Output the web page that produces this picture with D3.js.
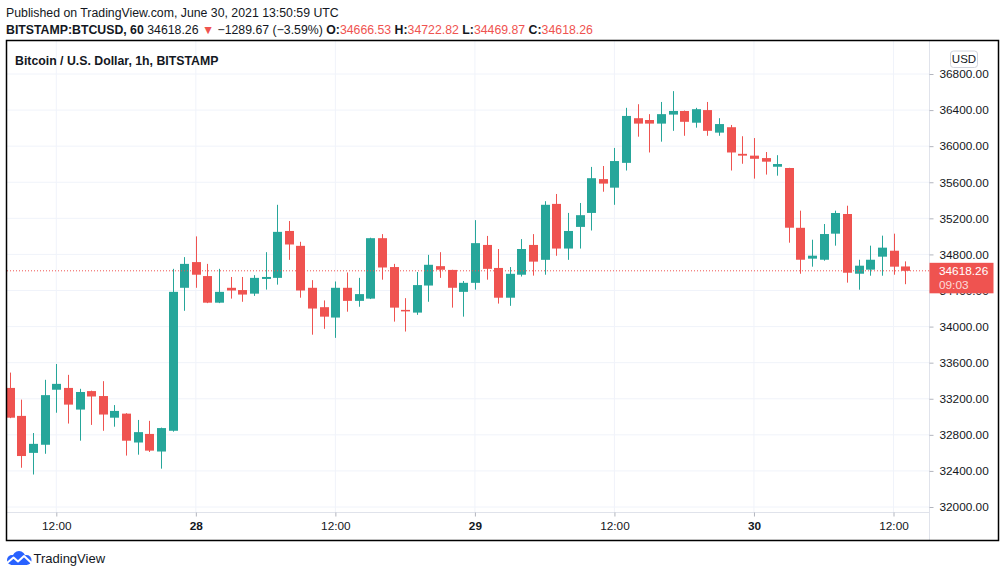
<!DOCTYPE html>
<html><head><meta charset="utf-8">
<script src="https://cdn.jsdelivr.net/npm/d3@7"></script>
<style>
body{margin:0;background:#fff;}
svg{display:block;font-family:"Liberation Sans",Arial,sans-serif;}
</style>
</head><body>
<svg id="c" width="1006" height="577"></svg>
<script>
// ---- data ----
const times = d3.utcHour.range(new Date(Date.UTC(2021,5,27,8)), new Date(Date.UTC(2021,5,30,14)));
const open = [33320,33010,32600,32690,33300,33320,33080,33285,33230,32990,33035,32715,32810,32615,32845,
 34430,34715,34560,34265,34430,34405,34365,34528,34540,35060,34895,34430,34215,34100,34430,
 34285,34310,34980,34660,34185,34155,34455,34670,34628,34385,34485,34905,34650,34320,34575,
 34905,34740,35360,34865,35105,35260,35635,35540,35815,36310,36290,36250,36350,36390,36260,
 36400,36150,36210,35915,35895,35868,35772,35758,35095,34753,34741,35030,35248,34586,34631,
 34775,34841,34666.53];
const high = [33490,33190,32820,33410,33585,33465,33310,33290,33395,33130,33040,32965,32955,32880,34640,
 34770,35000,34695,34640,34550,34550,34570,34825,35350,35170,34940,34515,34290,34500,34600,
 34540,34985,35025,34695,34315,34605,34795,34825,34630,34505,35180,35005,34860,34660,34970,
 35025,35390,35470,35260,35370,35770,35780,35980,36425,36465,36355,36490,36610,36395,36425,
 36490,36310,36235,36110,36090,35935,35900,35760,35285,34963,35137,35285,35340,34741,34897,
 35008,35030,34722.82];
const low = [32985,32435,32360,32590,33045,32925,32735,32910,32845,32890,32570,32580,32610,32425,32835,
 34175,34430,34260,34260,34310,34275,34340,34410,34465,34740,34320,33910,33975,33875,34165,
 34220,34305,34520,34055,33945,34130,34275,34540,34210,34110,34410,34520,34255,34230,34555,
 34565,34575,34785,34740,34865,35065,35495,35350,35730,36105,35930,36050,36170,36115,36205,
 36115,36115,35730,35805,35640,35685,35673,34930,34586,34664,34730,34897,34487,34409,34564,
 34564,34575,34469.87];
const close = [32990,32565,32700,33240,33365,33135,33275,33225,33025,33065,32735,32830,32625,32875,34385,
 34695,34575,34265,34385,34400,34355,34540,34550,35050,34910,34400,34200,34110,34430,34285,
 34360,34980,34655,34210,34175,34460,34685,34630,34430,34485,34925,34640,34320,34585,34860,
 34720,35350,34865,35060,35235,35645,35585,35835,36335,36250,36250,36355,36390,36270,36410,
 36170,36245,35930,35895,35860,35828,35802,35096,34741,34786,35026,35259,34597,34675,34741,
 34875,34664,34618.26];
const priceTicks = [32000,32400,32800,33200,33600,34000,34400,34800,35200,35600,36000,36400,36800];
const timeTicks = d3.utcHour.every(12).range(new Date(Date.UTC(2021,5,27,12)), new Date(Date.UTC(2021,5,30,13)));
const lastPrice = 34618.26, countdown = "09:03";

// ---- colors ----
const UP = "#26a69a", DOWN = "#ef5350", TXT = "#131722", GRID = "#f0f3fa", AXIS = "#e0e3eb";

const svg = d3.select("#c");
const L = 7, R = 929, T = 41, B = 512;

const x = d3.scaleTime()
  .domain([new Date(Date.UTC(2021,5,27,12)), new Date(Date.UTC(2021,5,30,12))])
  .range([56.3, 893.5]);
const y = d3.scaleLinear().domain([32000, 36800]).range([507, 74]);
const step = x(new Date(Date.UTC(2021,5,27,13))) - x(new Date(Date.UTC(2021,5,27,12)));
const bw = Math.round(step * 0.77);

// header
const h = svg.append("g").attr("font-size", 12.3).attr("fill", TXT);
h.append("text").attr("x", 6).attr("y", 17).text("Published on TradingView.com, June 30, 2021 13:50:59 UTC");
const l2 = h.append("text").attr("x", 6).attr("y", 34);
l2.append("tspan").attr("font-weight", "bold").text("BITSTAMP:BTCUSD, 60");
l2.append("tspan").text(" 34618.26 ");
l2.append("tspan").attr("fill", DOWN).text("▼");
l2.append("tspan").text(" −1289.67 (−3.59%) ");
[["O:", "34666.53"], ["H:", "34722.82"], ["L:", "34469.87"], ["C:", "34618.26"]].forEach(([k, v], i) => {
  l2.append("tspan").attr("font-weight", "bold").text((i ? " " : "") + k);
  l2.append("tspan").attr("fill", DOWN).text(v);
});

// frame
svg.append("clipPath").attr("id", "clip").append("rect").attr("x", L).attr("y", T).attr("width", R - L).attr("height", B - T);

// grid
const grid = svg.append("g");
grid.selectAll(".hg").data(priceTicks).join("line")
  .attr("x1", L).attr("x2", R).attr("y1", d => y(d)).attr("y2", d => y(d))
  .attr("stroke", GRID).attr("stroke-width", 1);
grid.selectAll(".vg").data(timeTicks).join("line")
  .attr("x1", d => x(d)).attr("x2", d => x(d)).attr("y1", T).attr("y2", B)
  .attr("stroke", GRID).attr("stroke-width", 1);

// candles
const idx = d3.range(times.length);
const cg = svg.append("g").attr("clip-path", "url(#clip)");
cg.selectAll(".wick").data(idx).join("line")
  .attr("x1", i => Math.round(x(times[i])) + 0.5).attr("x2", i => Math.round(x(times[i])) + 0.5)
  .attr("y1", i => y(high[i])).attr("y2", i => y(low[i]))
  .attr("stroke", i => close[i] >= open[i] ? UP : DOWN).attr("stroke-width", 1);
cg.selectAll(".body").data(idx).join("rect")
  .attr("x", i => Math.round(x(times[i])) + 0.5 - bw / 2)
  .attr("width", bw)
  .attr("y", i => y(Math.max(open[i], close[i])))
  .attr("height", i => Math.max(1.5, Math.abs(y(open[i]) - y(close[i]))))
  .attr("fill", i => close[i] >= open[i] ? UP : DOWN);

// last price line
svg.append("line").attr("x1", L).attr("x2", R).attr("y1", y(lastPrice)).attr("y2", y(lastPrice))
  .attr("stroke", DOWN).attr("stroke-width", 1).attr("stroke-dasharray", "1,2");

// chart title
svg.append("text").attr("x", 15).attr("y", 65).attr("font-size", 12.3).attr("font-weight", "bold")
  .attr("fill", TXT).text("Bitcoin / U.S. Dollar, 1h, BITSTAMP");

// axes lines
svg.append("line").attr("x1", R + 0.5).attr("x2", R + 0.5).attr("y1", T).attr("y2", 540).attr("stroke", AXIS);
svg.append("line").attr("x1", L).attr("x2", R).attr("y1", B + 0.5).attr("y2", B + 0.5).attr("stroke", AXIS);

// y axis
const ya = svg.append("g").attr("transform", `translate(${R + 0.5},0)`)
  .call(d3.axisRight(y).tickValues(priceTicks).tickFormat(d => d.toFixed(2)).tickSize(4).tickPadding(6));
ya.select(".domain").remove();
ya.selectAll(".tick line").attr("stroke", "#b2b5be");
ya.selectAll(".tick text").attr("fill", TXT).attr("font-size", 11.8).attr("font-family", "Liberation Sans, Arial, sans-serif");

// x axis
const xa = svg.append("g").attr("transform", `translate(0,${B + 0.5})`)
  .call(d3.axisBottom(x).tickValues(timeTicks).tickSize(4).tickPadding(5.5)
    .tickFormat(d => d.getUTCHours() === 0 ? String(d.getUTCDate()) : "12:00"));
xa.select(".domain").remove();
xa.selectAll(".tick line").attr("stroke", "#b2b5be");
xa.selectAll(".tick text").attr("fill", TXT).attr("font-size", 11.8).attr("font-family", "Liberation Sans, Arial, sans-serif")
  .attr("font-weight", d => d.getUTCHours() === 0 ? "bold" : "normal");

// last price label
const ly = y(lastPrice);
svg.append("rect").attr("x", R + 0.5).attr("y", ly - 8).attr("width", 64).attr("height", 30.5).attr("fill", DOWN);
svg.append("text").attr("x", 939).attr("y", ly + 4.3).attr("font-size", 11.8).attr("fill", "#fff").text(lastPrice.toFixed(2));
svg.append("text").attr("x", 939).attr("y", ly + 18.5).attr("font-size", 11.8).attr("fill", "#fff").attr("fill-opacity", 0.8).text(countdown);

// USD box
svg.append("rect").attr("x", 950.5).attr("y", 51).attr("width", 27).attr("height", 16.5).attr("rx", 3)
  .attr("fill", "#fff").attr("stroke", "#d1d4dc");
svg.append("text").attr("x", 964).attr("y", 63.3).attr("text-anchor", "middle").attr("font-size", 11.5).attr("fill", TXT).text("USD");

// outer border
svg.append("rect").attr("x", 6.5).attr("y", 40.5).attr("width", 992).attr("height", 500)
  .attr("fill", "none").attr("stroke", "#000").attr("stroke-width", 1.5);

// logo
const lg = svg.append("g").attr("transform", "translate(6,551)");
lg.append("circle").attr("cx", 6).attr("cy", 9).attr("r", 5).attr("fill", "#2962ff");
lg.append("circle").attr("cx", 13).attr("cy", 6.5).attr("r", 6.5).attr("fill", "#2962ff");
lg.append("circle").attr("cx", 20.5).attr("cy", 9).attr("r", 5).attr("fill", "#2962ff");
lg.append("rect").attr("x", 5).attr("y", 8).attr("width", 16).attr("height", 6).attr("fill", "#2962ff");
lg.append("polyline").attr("points", "1,12 7.5,6.5 12,10.5 18,5 25.5,12")
  .attr("fill", "none").attr("stroke", "#fff").attr("stroke-width", 2).attr("stroke-linejoin", "round");
svg.append("text").attr("x", 33.5).attr("y", 563).attr("font-size", 13).attr("fill", TXT).text("TradingView");
</script>
</body></html>
